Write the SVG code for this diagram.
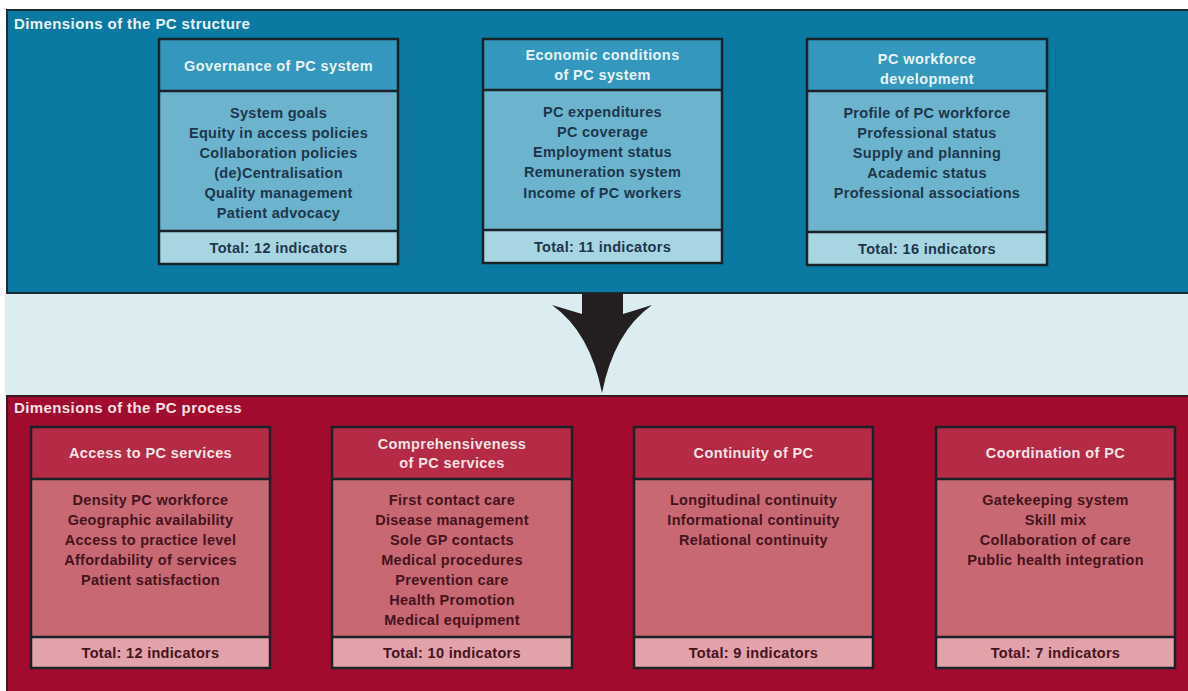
<svg xmlns="http://www.w3.org/2000/svg" width="1188" height="691" viewBox="0 0 1188 691">
  <style>
    text { font-family: "Liberation Sans", Arial, sans-serif; font-weight: bold; text-anchor: middle; }
    .ptitle { font-size: 15px; text-anchor: start; letter-spacing: 0.4px; }
    .hd { font-size: 14.5px; letter-spacing: 0.4px; }
    .it { font-size: 14.5px; letter-spacing: 0.3px; }
    .ft { font-size: 14.5px; letter-spacing: 0.3px; }
    .frame { fill: none; stroke: #1a2228; stroke-width: 2.5; }
    .sep { stroke: #1a2228; stroke-width: 2.5; }
    .b-hd { fill: #3497bd; }
    .b-bd { fill: #6cb4ce; }
    .b-ft { fill: #a8d5e2; }
    .b-hdt { fill: #e6f3f8; }
    .b-txt { fill: #1d364b; }
    .r-hd { fill: #b52a45; }
    .r-bd { fill: #c86873; }
    .r-ft { fill: #e1a2a9; }
    .r-hdt { fill: #f8e3e7; }
    .r-txt { fill: #45131c; }
  </style>

  <!-- background -->
  <rect x="0" y="0" width="1188" height="691" fill="#ffffff"/>
  <rect x="5" y="293" width="1183" height="103" fill="#dcedf2"/>

  <!-- structure panel -->
  <g id="structure-panel">
    <rect x="7" y="10" width="1183" height="283" fill="#0a7aa3" stroke="#1c2a33" stroke-width="2"/>
    <text class="ptitle" x="14" y="29" fill="#e9f4f8">Dimensions of the PC structure</text>
  </g>

  <!-- process panel -->
  <g id="process-panel">
    <rect x="7" y="396" width="1183" height="297" fill="#a30b2e" stroke="#3a1a20" stroke-width="2"/>
    <text class="ptitle" x="14" y="413" fill="#f7e1e6">Dimensions of the PC process</text>
  </g>

  <!-- connectors -->
  <g id="connectors">
    <path d="M582,293 L623,293 L623,314 L652,305 Q614,332 602,393 Q590,332 552,305 L582,314 Z" fill="#231f20"/>
  </g>

  <!-- structure nodes -->
  <g id="governance">
    <rect class="b-hd" x="159" y="39" width="239" height="52"/>
    <rect class="b-bd" x="159" y="91" width="239" height="140"/>
    <rect class="b-ft" x="159" y="231" width="239" height="33"/>
    <line class="sep" x1="159" y1="91" x2="398" y2="91"/>
    <line class="sep" x1="159" y1="231" x2="398" y2="231"/>
    <rect class="frame" x="159" y="39" width="239" height="225"/>
    <text class="hd b-hdt" x="278.5" y="70.5">Governance of PC system</text>
    <text class="it b-txt" x="278.5" y="118">System goals</text>
    <text class="it b-txt" x="278.5" y="138">Equity in access policies</text>
    <text class="it b-txt" x="278.5" y="158">Collaboration policies</text>
    <text class="it b-txt" x="278.5" y="178">(de)Centralisation</text>
    <text class="it b-txt" x="278.5" y="198">Quality management</text>
    <text class="it b-txt" x="278.5" y="218">Patient advocacy</text>
    <text class="ft b-txt" x="278.5" y="252.5">Total: 12 indicators</text>
  </g>

  <g id="economic">
    <rect class="b-hd" x="483" y="39" width="239" height="51"/>
    <rect class="b-bd" x="483" y="90" width="239" height="140"/>
    <rect class="b-ft" x="483" y="230" width="239" height="33"/>
    <line class="sep" x1="483" y1="90" x2="722" y2="90"/>
    <line class="sep" x1="483" y1="230" x2="722" y2="230"/>
    <rect class="frame" x="483" y="39" width="239" height="224"/>
    <text class="hd b-hdt" x="602.5" y="59.5">Economic conditions</text>
    <text class="hd b-hdt" x="602.5" y="80">of PC system</text>
    <text class="it b-txt" x="602.5" y="116.5">PC expenditures</text>
    <text class="it b-txt" x="602.5" y="136.8">PC coverage</text>
    <text class="it b-txt" x="602.5" y="157.1">Employment status</text>
    <text class="it b-txt" x="602.5" y="177.4">Remuneration system</text>
    <text class="it b-txt" x="602.5" y="197.7">Income of PC workers</text>
    <text class="ft b-txt" x="602.5" y="252">Total: 11 indicators</text>
  </g>

  <g id="workforce">
    <rect class="b-hd" x="807" y="39" width="240" height="52"/>
    <rect class="b-bd" x="807" y="91" width="240" height="141"/>
    <rect class="b-ft" x="807" y="232" width="240" height="33"/>
    <line class="sep" x1="807" y1="91" x2="1047" y2="91"/>
    <line class="sep" x1="807" y1="232" x2="1047" y2="232"/>
    <rect class="frame" x="807" y="39" width="240" height="226"/>
    <text class="hd b-hdt" x="927" y="63.5">PC workforce</text>
    <text class="hd b-hdt" x="927" y="83.5">development</text>
    <text class="it b-txt" x="927" y="118">Profile of PC workforce</text>
    <text class="it b-txt" x="927" y="138">Professional status</text>
    <text class="it b-txt" x="927" y="158">Supply and planning</text>
    <text class="it b-txt" x="927" y="178">Academic status</text>
    <text class="it b-txt" x="927" y="198">Professional associations</text>
    <text class="ft b-txt" x="927" y="254">Total: 16 indicators</text>
  </g>

  <!-- process nodes -->
  <g id="access">
    <rect class="r-hd" x="31" y="427" width="239" height="52"/>
    <rect class="r-bd" x="31" y="479" width="239" height="158"/>
    <rect class="r-ft" x="31" y="637" width="239" height="31"/>
    <line class="sep" x1="31" y1="479" x2="270" y2="479"/>
    <line class="sep" x1="31" y1="637" x2="270" y2="637"/>
    <rect class="frame" x="31" y="427" width="239" height="241"/>
    <text class="hd r-hdt" x="150.5" y="458">Access to PC services</text>
    <text class="it r-txt" x="150.5" y="504.5">Density PC workforce</text>
    <text class="it r-txt" x="150.5" y="524.6">Geographic availability</text>
    <text class="it r-txt" x="150.5" y="544.7">Access to practice level</text>
    <text class="it r-txt" x="150.5" y="564.8">Affordability of services</text>
    <text class="it r-txt" x="150.5" y="584.9">Patient satisfaction</text>
    <text class="ft r-txt" x="150.5" y="658">Total: 12 indicators</text>
  </g>

  <g id="comprehensiveness">
    <rect class="r-hd" x="332" y="427" width="240" height="52"/>
    <rect class="r-bd" x="332" y="479" width="240" height="158"/>
    <rect class="r-ft" x="332" y="637" width="240" height="31"/>
    <line class="sep" x1="332" y1="479" x2="572" y2="479"/>
    <line class="sep" x1="332" y1="637" x2="572" y2="637"/>
    <rect class="frame" x="332" y="427" width="240" height="241"/>
    <text class="hd r-hdt" x="452" y="448.5">Comprehensiveness</text>
    <text class="hd r-hdt" x="452" y="468">of PC services</text>
    <text class="it r-txt" x="452" y="504.5">First contact care</text>
    <text class="it r-txt" x="452" y="524.6">Disease management</text>
    <text class="it r-txt" x="452" y="544.7">Sole GP contacts</text>
    <text class="it r-txt" x="452" y="564.8">Medical procedures</text>
    <text class="it r-txt" x="452" y="584.9">Prevention care</text>
    <text class="it r-txt" x="452" y="605">Health Promotion</text>
    <text class="it r-txt" x="452" y="625.1">Medical equipment</text>
    <text class="ft r-txt" x="452" y="658">Total: 10 indicators</text>
  </g>

  <g id="continuity">
    <rect class="r-hd" x="634" y="427" width="239" height="52"/>
    <rect class="r-bd" x="634" y="479" width="239" height="158"/>
    <rect class="r-ft" x="634" y="637" width="239" height="31"/>
    <line class="sep" x1="634" y1="479" x2="873" y2="479"/>
    <line class="sep" x1="634" y1="637" x2="873" y2="637"/>
    <rect class="frame" x="634" y="427" width="239" height="241"/>
    <text class="hd r-hdt" x="753.5" y="458">Continuity of PC</text>
    <text class="it r-txt" x="753.5" y="504.5">Longitudinal continuity</text>
    <text class="it r-txt" x="753.5" y="524.6">Informational continuity</text>
    <text class="it r-txt" x="753.5" y="544.7">Relational continuity</text>
    <text class="ft r-txt" x="753.5" y="658">Total: 9 indicators</text>
  </g>

  <g id="coordination">
    <rect class="r-hd" x="936" y="427" width="239" height="52"/>
    <rect class="r-bd" x="936" y="479" width="239" height="158"/>
    <rect class="r-ft" x="936" y="637" width="239" height="31"/>
    <line class="sep" x1="936" y1="479" x2="1175" y2="479"/>
    <line class="sep" x1="936" y1="637" x2="1175" y2="637"/>
    <rect class="frame" x="936" y="427" width="239" height="241"/>
    <text class="hd r-hdt" x="1055.5" y="458">Coordination of PC</text>
    <text class="it r-txt" x="1055.5" y="504.5">Gatekeeping system</text>
    <text class="it r-txt" x="1055.5" y="524.6">Skill mix</text>
    <text class="it r-txt" x="1055.5" y="544.7">Collaboration of care</text>
    <text class="it r-txt" x="1055.5" y="564.8">Public health integration</text>
    <text class="ft r-txt" x="1055.5" y="658">Total: 7 indicators</text>
  </g>
</svg>
